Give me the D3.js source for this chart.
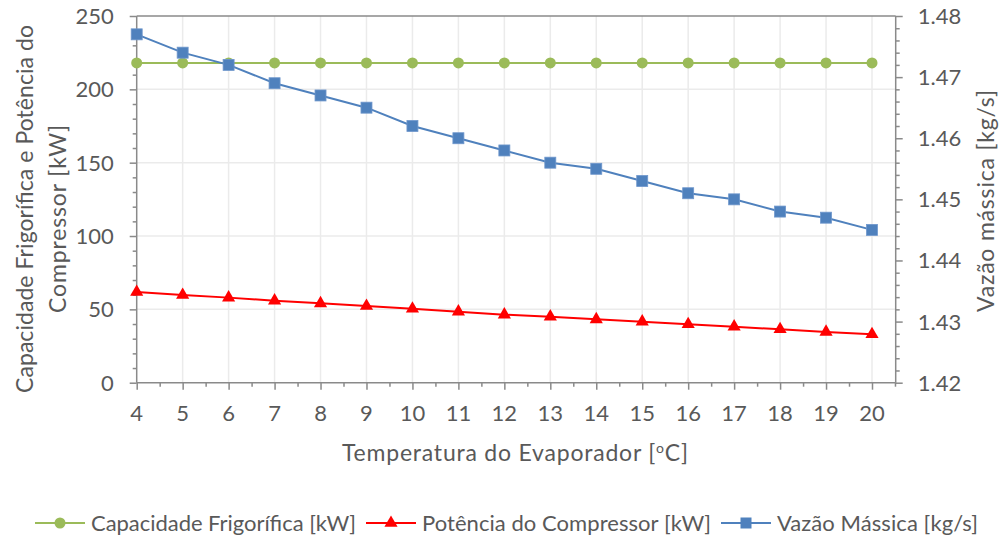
<!DOCTYPE html>
<html><head><meta charset="utf-8">
<script src="https://cdn.jsdelivr.net/npm/d3@7"></script>
<style>body{margin:0;background:#fff}text{font-family:Lato,"Open Sans",sans-serif;fill:#595959}</style>
</head><body><svg id="c" width="1000" height="538"></svg>
<script>
const temps = [4,5,6,7,8,9,10,11,12,13,14,15,16,17,18,19,20];
const capacidade = [218,218,218,218,218,218,218,218,218,218,218,218,218,218,218,218,218];
const potencia = [61.8,59.8,58.0,55.9,54.1,52.3,50.4,48.4,46.4,45.0,43.2,41.6,39.8,38.2,36.4,34.6,33.0];
const vazao = [1.477,1.474,1.472,1.469,1.467,1.465,1.462,1.460,1.458,1.456,1.455,1.453,1.451,1.450,1.448,1.447,1.445];
const leftTicks = [0,50,100,150,200,250];
const rightTicks = [1.42,1.43,1.44,1.45,1.46,1.47,1.48];
const seriesNames = ["Capacidade Frigorífica [kW]","Potência do Compressor [kW]","Vazão Mássica [kg/s]"];
const colors = {cap:"#9BBB59", pot:"#FF0000", vaz:"#4F81BD"};

const svg = d3.select("#c");
const L = 136.7, R = 895.7, T = 16, B = 382.7;
const x = d3.scaleLinear().domain([4,20]).range([L, 872]);
const yL = d3.scaleLinear().domain([0,250]).range([B,T]);
const yR = d3.scaleLinear().domain([1.42,1.48]).range([B,T]);
const axisCol = "#8a8a8a", gridCol = "#ebebeb";

// gridlines
svg.append("g").selectAll("line").data(leftTicks.filter(d=>d>0 && d<250)).join("line")
  .attr("x1",L).attr("x2",R).attr("y1",d=>yL(d)).attr("y2",d=>yL(d))
  .attr("stroke",gridCol).attr("stroke-width",1.5);
svg.append("g").selectAll("line").data(temps.slice(1)).join("line")
  .attr("x1",d=>x(d)).attr("x2",d=>x(d)).attr("y1",T).attr("y2",B)
  .attr("stroke",gridCol).attr("stroke-width",1.5);
// top border
svg.append("line").attr("x1",L).attr("x2",R).attr("y1",T).attr("y2",T).attr("stroke",axisCol).attr("stroke-width",1.5);

// left axis
const gL = svg.append("g").attr("transform",`translate(${L},0)`);
gL.call(d3.axisLeft(yL).tickValues(d3.range(0,251,10)).tickSize(4).tickFormat(""));
gL.call(g=>g.selectAll(".tick").filter(d=>d%50===0).select("line").attr("x2",-7));
gL.selectAll("line,path").attr("stroke",axisCol).attr("stroke-width",1.5);
gL.select(".domain").attr("d",`M0,${T}V${B}`);
gL.selectAll(".lbl").data(leftTicks).join("text").attr("class","lbl")
  .attr("x",-23).attr("y",d=>yL(d)).attr("dy","0.36em").attr("text-anchor","end")
  .style("font-size","22px").text(d=>d);

// right axis
const gR = svg.append("g").attr("transform",`translate(${R},0)`);
gR.call(d3.axisRight(yR).tickValues(d3.range(0,31).map(i=>1.42+i*0.002)).tickSize(4).tickFormat(""));
gR.call(g=>g.selectAll(".tick").filter((d,i)=>i%5===0).select("line").attr("x2",7));
gR.selectAll("line,path").attr("stroke",axisCol).attr("stroke-width",1.5);
gR.select(".domain").attr("d",`M0,${T}V${B}`);
gR.selectAll(".lbl").data(rightTicks).join("text").attr("class","lbl")
  .attr("x",22).attr("y",d=>yR(d)).attr("dy","0.36em").attr("text-anchor","start")
  .style("font-size","22px").text(d=>d.toFixed(2));

// bottom axis
const gB = svg.append("g").attr("transform",`translate(0,${B})`);
gB.call(d3.axisBottom(x).tickValues(d3.range(0,34).map(i=>4+i*0.5)).tickSize(4).tickFormat(""));
gB.call(g=>g.selectAll(".tick").filter(d=>Number.isInteger(d)).select("line").attr("y2",7));
gB.selectAll("line,path").attr("stroke",axisCol).attr("stroke-width",1.5);
gB.select(".domain").attr("d",`M${L},0H${R}`);
gB.selectAll(".lbl").data(temps).join("text").attr("class","lbl")
  .attr("x",d=>x(d)).attr("y",30).attr("dy","0.36em").attr("text-anchor","middle")
  .style("font-size","22px").text(d=>d);

// axis titles
const xt = svg.append("text").attr("x",515).attr("y",461).attr("text-anchor","middle")
  .style("font-size","23px").attr("textLength",346).attr("lengthAdjust","spacing");
xt.append("tspan").text("Temperatura do Evaporador [");
xt.append("tspan").attr("dy",-8).style("font-size","14px").text("o");
xt.append("tspan").attr("dy",8).text("C]");

const lt = svg.append("g").style("font-size","23px");
lt.append("text").attr("transform","translate(33,209) rotate(-90)").attr("text-anchor","middle")
  .attr("textLength",368).attr("lengthAdjust","spacing").text("Capacidade Frigorífica e Potência do");
lt.append("text").attr("transform","translate(66,219) rotate(-90)").attr("text-anchor","middle")
  .attr("textLength",188).attr("lengthAdjust","spacing").text("Compressor [kW]");

svg.append("text").attr("transform","translate(994,201) rotate(-90)").attr("text-anchor","middle")
  .style("font-size","23px").attr("textLength",222).attr("lengthAdjust","spacing").text("Vazão mássica [kg/s]");

// series
const line = (ys, vals) => d3.line().x((d,i)=>x(temps[i])).y(d=>ys(d))(vals);
svg.append("path").attr("d",line(yL,capacidade)).attr("fill","none").attr("stroke",colors.cap).attr("stroke-width",2);
svg.append("path").attr("d",line(yL,potencia)).attr("fill","none").attr("stroke",colors.pot).attr("stroke-width",2);
svg.append("path").attr("d",line(yR,vazao)).attr("fill","none").attr("stroke",colors.vaz).attr("stroke-width",2);

const tri = d3.symbol().type(d3.symbolTriangle).size(75);
svg.append("g").selectAll("circle").data(capacidade).join("circle")
  .attr("cx",(d,i)=>x(temps[i])).attr("cy",d=>yL(d)).attr("r",5.5).attr("fill",colors.cap);
svg.append("g").selectAll("path").data(potencia).join("path")
  .attr("d",tri).attr("transform",(d,i)=>`translate(${x(temps[i])},${yL(d)})`).attr("fill",colors.pot);
svg.append("g").selectAll("rect").data(vazao).join("rect")
  .attr("x",(d,i)=>x(temps[i])-5.5).attr("y",d=>yR(d)-5.5).attr("width",11).attr("height",11)
  .attr("fill",colors.vaz).attr("stroke","#6f97cc").attr("stroke-width",0.8);

// legend
const lg = svg.append("g");
const items = [{n:seriesNames[0],c:colors.cap,m:"circle",w:265},{n:seriesNames[1],c:colors.pot,m:"tri",w:289},{n:seriesNames[2],c:colors.vaz,m:"sq",w:201}];
let cx = 0; const ly = 523;
items.forEach(it=>{
  const g = lg.append("g").attr("transform",`translate(${cx},0)`);
  g.append("line").attr("x1",0).attr("x2",50).attr("y1",ly).attr("y2",ly).attr("stroke",it.c).attr("stroke-width",2);
  if(it.m==="circle") g.append("circle").attr("cx",25).attr("cy",ly).attr("r",5.5).attr("fill",it.c);
  else if(it.m==="tri") g.append("path").attr("d",tri).attr("transform",`translate(25,${ly})`).attr("fill",it.c);
  else g.append("rect").attr("x",19.5).attr("y",ly-5.5).attr("width",11).attr("height",11).attr("fill",it.c);
  g.append("text").attr("x",56).attr("y",ly).attr("dy","0.36em").style("font-size","22px")
    .attr("textLength",it.w).attr("lengthAdjust","spacing").text(it.n);
  cx += 56 + it.w + 10;
});
lg.attr("transform",`translate(35,0)`);
</script></body></html>
